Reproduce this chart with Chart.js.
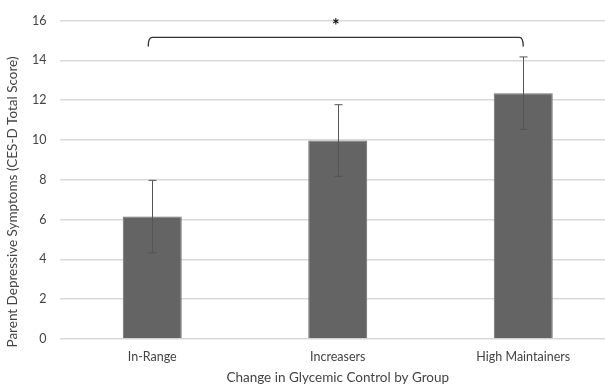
<!DOCTYPE html>
<html>
<head>
<meta charset="utf-8">
<script src="https://cdn.jsdelivr.net/npm/chart.js@4/dist/chart.umd.min.js"></script>
<style>
  html, body { margin: 0; padding: 0; background: #fff; overflow: hidden; }
  #wrap { width: 605px; height: 386px; overflow: hidden; position: relative; }
  canvas { display: block; }
</style>
</head>
<body>
<div id="wrap"><canvas id="chart" width="620" height="386"></canvas></div>
<script>
// Group means and standard errors of the CES-D total score
const groups = ['In-Range', 'Increasers', 'High Maintainers'];
const meanScores = [6.15, 9.97, 12.35];
const stdErrors = [1.82, 1.8, 1.82];
const yTicks = [0, 2, 4, 6, 8, 10, 12, 14, 16];
// Significance bracket between the first and last group
const bracketFrom = 0;
const bracketTo = 2;
const bracketLevel = 15.15;
const bracketDrop = 14.7;
const bracketMark = '*';

const yTitle = 'Parent Depressive Symptoms (CES-D Total Score)';
const xTitle = 'Change in Glycemic Control by Group';

const FONT = 'Lato, "Liberation Sans", sans-serif';
const INK = '#444444';

const errorBars = {
  id: 'errorBars',
  afterDatasetsDraw(chart) {
    const { ctx, scales: { x, y } } = chart;
    ctx.save();
    ctx.strokeStyle = '#555555';
    ctx.lineWidth = 1;
    meanScores.forEach((m, i) => {
      const cx = Math.round(x.getPixelForValue(i)) + 0.5;
      const top = y.getPixelForValue(m + stdErrors[i]);
      const bot = y.getPixelForValue(m - stdErrors[i]);
      ctx.beginPath();
      ctx.moveTo(cx, top); ctx.lineTo(cx, bot);
      ctx.moveTo(cx - 4, top); ctx.lineTo(cx + 4, top);
      ctx.moveTo(cx - 4, bot); ctx.lineTo(cx + 4, bot);
      ctx.stroke();
    });
    ctx.restore();
  }
};

const bracket = {
  id: 'bracket',
  afterDraw(chart) {
    const { ctx, scales: { x, y } } = chart;
    const x1 = x.getPixelForValue(bracketFrom) - 4;
    const x2 = x.getPixelForValue(bracketTo);
    const yl = y.getPixelForValue(bracketLevel);
    const yd = y.getPixelForValue(bracketDrop);
    ctx.save();
    ctx.strokeStyle = '#333';
    ctx.lineWidth = 1.4;
    ctx.lineJoin = 'round';
    ctx.beginPath();
    ctx.moveTo(x1, yd);
    ctx.quadraticCurveTo(x1, yl, x1 + 4, yl);
    ctx.lineTo(x2 - 4, yl);
    ctx.quadraticCurveTo(x2, yl, x2, yd);
    ctx.stroke();
    ctx.fillStyle = '#111';
    ctx.font = 'bold 18px ' + FONT;
    ctx.textAlign = 'center';
    ctx.textBaseline = 'middle';
    ctx.fillText(bracketMark, (x1 + x2) / 2, yl - 11);
    ctx.restore();
  }
};

const yAxisTitle = {
  id: 'yAxisTitle',
  afterDraw(chart) {
    const { ctx } = chart;
    ctx.save();
    ctx.fillStyle = INK;
    ctx.font = '13.5px ' + FONT;
    ctx.textAlign = 'center';
    ctx.textBaseline = 'middle';
    ctx.translate(13, 202);
    ctx.rotate(-Math.PI / 2);
    ctx.fillText(yTitle, 0, 0);
    ctx.restore();
  }
};

new Chart(document.getElementById('chart'), {
  type: 'bar',
  data: {
    labels: groups,
    datasets: [{
      data: meanScores,
      backgroundColor: '#646464',
      borderColor: '#6e6e6e',
      borderWidth: 1,
      categoryPercentage: 1,
      barPercentage: 0.318
    }]
  },
  options: {
    responsive: false,
    animation: false,
    devicePixelRatio: 1,
    layout: { padding: { top: 19, right: 4, left: 0, bottom: 0 } },
    plugins: { legend: { display: false }, tooltip: { enabled: false } },
    scales: {
      x: {
        grid: { display: false, drawTicks: false },
        border: { display: false },
        ticks: { color: INK, font: { family: FONT, size: 12.5 }, padding: 10 },
        title: { display: true, text: xTitle, color: INK, font: { family: FONT, size: 13.5 }, padding: { top: 4, bottom: 0 } },
        afterFit(scale) { scale.height = 47; }
      },
      y: {
        min: 0,
        max: 16,
        afterBuildTicks(scale) { scale.ticks = yTicks.map(v => ({ value: v })); },
        grid: { color: '#d9d9d9', lineWidth: 1.5, drawTicks: false },
        border: { display: false },
        ticks: { color: INK, font: { family: FONT, size: 12.5 }, padding: 13 },
        afterFit(scale) { scale.width = 59.5; }
      }
    }
  },
  plugins: [errorBars, bracket, yAxisTitle]
});
</script>
</body>
</html>
